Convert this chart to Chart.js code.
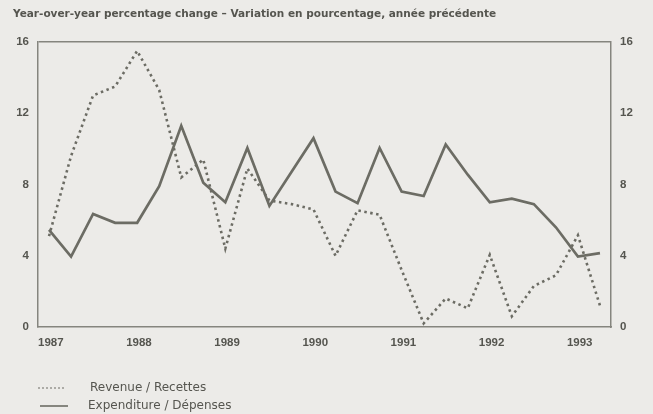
<html>
<head>
  <meta charset="UTF-8">
  <script src="https://cdn.jsdelivr.net/npm/chart.js"></script>
  <title>Revenue and expenditure</title>
  <style>
    body { margin: 0; background: #ecebe8; }
    #wrapper { width: 653px; height: 414px; }
  </style>
</head>
<body>
<div id="wrapper">
  <canvas id="chart" width="653" height="414"></canvas>
</div>
<script>
    // quarterly, 1987Q1 .. 1993Q2
    const quarters = ['1987Q1','1987Q2','1987Q3','1987Q4','1988Q1','1988Q2','1988Q3','1988Q4',
                      '1989Q1','1989Q2','1989Q3','1989Q4','1990Q1','1990Q2','1990Q3','1990Q4',
                      '1991Q1','1991Q2','1991Q3','1991Q4','1992Q1','1992Q2','1992Q3','1992Q4',
                      '1993Q1','1993Q2'];
    const revenue = [5.1, 9.6, 13.0, 13.5, 15.5, 13.3, 8.4, 9.4, 4.4, 8.9, 7.1, 6.9, 6.6,
                     4.0, 6.55, 6.3, 3.2, 0.2, 1.6, 1.05, 4.05, 0.6, 2.3, 2.9, 5.15, 1.2];
    const expenditure = [5.45, 3.95, 6.35, 5.85, 5.85, 7.9, 11.3, 8.1, 7.0, 10.05, 6.8, 8.7, 10.6,
                         7.6, 6.95, 10.05, 7.6, 7.35, 10.25, 8.55, 7.0, 7.2, 6.9, 5.6, 3.95, 4.15];
    const years = [1987, 1988, 1989, 1990, 1991, 1992, 1993];
    const yTicks = [0, 4, 8, 12, 16];

    const titleText = 'Year-over-year percentage change \u2013 Variation en pourcentage, ann\u00e9e pr\u00e9c\u00e9dente';
    const ink = '#55554f';
    const lineColor = '#6c6c64';
    const frame = '#85857e';
    const tickFont = {family: 'Liberation Sans', size: 11.5, weight: 'bold'};

    // mid-quarter position on a year axis
    function quarterPos(q) {
        const y = parseInt(q.slice(0, 4));
        const n = parseInt(q.slice(5));
        return y + (n - 0.5) / 4;
    }

    const legendPlugin = {
        id: 'sideLegend',
        afterDraw(chart) {
            const ctx = chart.ctx;
            const rows = [{x0: 38, x1: 66, y: 388, tx: 90}, {x0: 40, x1: 68, y: 406, tx: 88}];
            ctx.save();
            chart.data.datasets.forEach((ds, i) => {
                const r = rows[i];
                ctx.strokeStyle = ds.borderColor;
                ctx.lineWidth = i === 0 ? 1 : 1.6;
                ctx.setLineDash(ds.borderDash ? [2, 2] : []);
                ctx.beginPath();
                ctx.moveTo(r.x0, r.y);
                ctx.lineTo(r.x1, r.y);
                ctx.stroke();
                ctx.setLineDash([]);
                ctx.fillStyle = ink;
                ctx.font = '12px "DejaVu Sans"';
                ctx.textBaseline = 'middle';
                ctx.fillText(ds.label, r.tx, r.y);
            });
            ctx.restore();
        }
    };

    const ctx = document.getElementById('chart').getContext('2d');
    const chart = new Chart(ctx, {
        type: 'line',
        data: {
            datasets: [
                {
                    label: 'Revenue / Recettes',
                    data: quarters.map((q, i) => ({x: quarterPos(q), y: revenue[i]})),
                    borderColor: lineColor,
                    borderWidth: 2.6,
                    borderDash: [2.5, 3.5],
                    pointRadius: 0,
                    yAxisID: 'y'
                },
                {
                    label: 'Expenditure / D\u00e9penses',
                    data: quarters.map((q, i) => ({x: quarterPos(q), y: expenditure[i]})),
                    borderColor: lineColor,
                    borderWidth: 2.7,
                    pointRadius: 0,
                    yAxisID: 'y'
                }
            ]
        },
        options: {
            responsive: false,
            animation: false,
            layout: {padding: {left: 13, right: 0, top: 0, bottom: 57}},
            plugins: {
                legend: {display: false},
                tooltip: {enabled: false},
                title: {
                    display: true,
                    text: titleText,
                    align: 'start',
                    color: ink,
                    font: {family: 'DejaVu Sans', size: 10.5, weight: 'bold', lineHeight: 1.2},
                    padding: {top: 7.7, bottom: 21.7}
                }
            },
            scales: {
                x: {
                    type: 'linear',
                    min: 1987,
                    max: 1993.5,
                    afterBuildTicks: s => { s.ticks = years.map(v => ({value: v})); },
                    afterFit: s => { s.height = 30; },
                    grid: {display: false, drawTicks: false},
                    border: {display: true, color: frame, width: 1.5},
                    ticks: {
                        align: 'start',
                        padding: 9,
                        color: ink,
                        font: tickFont,
                        callback: v => String(v)
                    }
                },
                y: {
                    position: 'left',
                    min: 0,
                    max: 16,
                    afterBuildTicks: s => { s.ticks = yTicks.map(v => ({value: v})); },
                    afterFit: s => { s.width = 25; },
                    grid: {
                        drawTicks: false,
                        color: c => c.tick && c.tick.value === 16 ? frame : 'transparent',
                        lineWidth: 1.5
                    },
                    border: {display: true, color: frame, width: 1.5},
                    ticks: {padding: 9, color: ink, font: tickFont}
                },
                y2: {
                    position: 'right',
                    min: 0,
                    max: 16,
                    afterBuildTicks: s => { s.ticks = yTicks.map(v => ({value: v})); },
                    afterFit: s => { s.width = 42; },
                    grid: {display: false, drawTicks: false},
                    border: {display: true, color: frame, width: 1.5},
                    ticks: {padding: 9, color: ink, font: tickFont}
                }
            }
        },
        plugins: [legendPlugin]
    });
</script>
</body>
</html>
